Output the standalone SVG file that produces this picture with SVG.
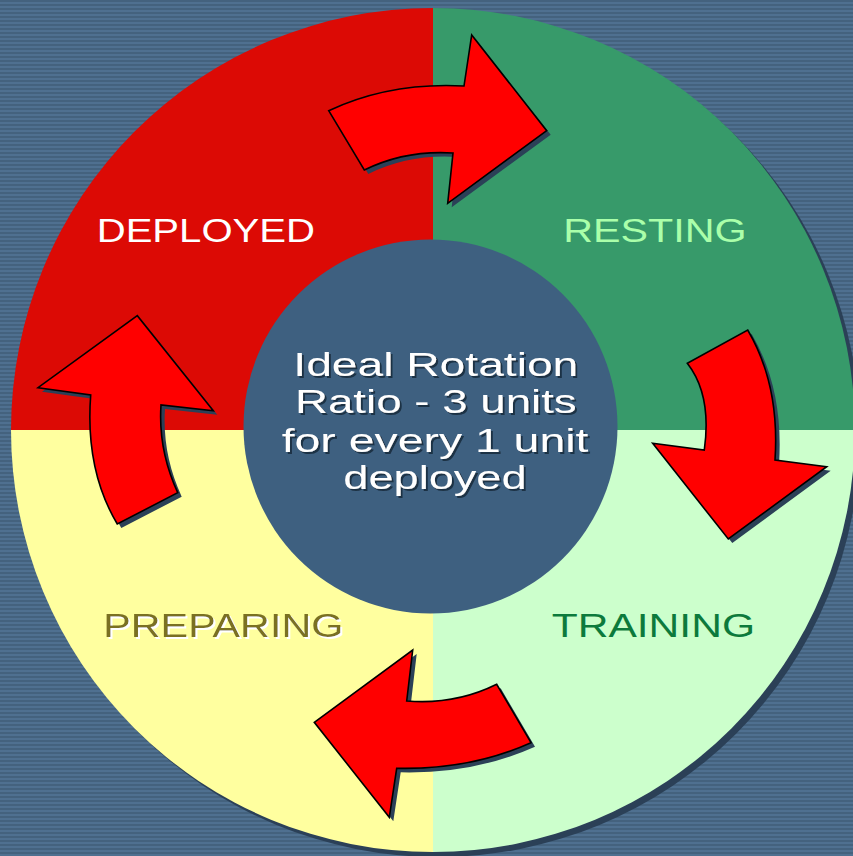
<svg xmlns="http://www.w3.org/2000/svg" width="853" height="856" viewBox="0 0 853 856">
<defs>
<pattern id="stripes" x="0" y="0" width="8" height="4" patternUnits="userSpaceOnUse">
<rect width="8" height="4" fill="#44627e"/>
<rect y="2" width="8" height="2" fill="#4f7090"/>
</pattern>
<filter id="darkShadow" x="-5%" y="-20%" width="110%" height="140%">
<feDropShadow dx="2" dy="2" stdDeviation="0.3" flood-color="#1e3045" flood-opacity="1"/>
</filter>
<filter id="lightShadow" x="-5%" y="-20%" width="110%" height="140%">
<feDropShadow dx="2" dy="2" stdDeviation="0.3" flood-color="#ffffff" flood-opacity="1"/>
</filter>
<path id="arrowTop" d="M328.7,110.7 Q390,82 464,86 L471.7,35 L546.7,130.7 L447.7,203.3 L453,153 Q405,150 364.3,170 Z"/>
<path id="arrowRight" d="M747.7,330 Q780,385 775,460 L826.7,466.7 L728.3,539 L652.7,443.3 L704.3,450 Q712,395 687.3,363.3 Z"/>
<path id="arrowBottom" d="M496.7,684.3 Q455,705 406.7,701 L412.7,650 L314.3,722.3 L389.3,817.3 L396.7,768.3 Q470,770 531,742.7 Z"/>
<path id="arrowLeft" d="M117.3,524 Q85,470 90.7,395 L38,387.7 L137.3,315.7 L213.3,410.7 L161,405 Q158,450 177.7,492.7 Z"/>
</defs>
<style>
.arrow{fill:#ff0000;stroke:#000;stroke-width:1.6;stroke-linejoin:miter}
.ashadow{fill:#2b4057}
.label{font-family:"Liberation Sans",Arial,sans-serif;font-size:32.5px}
.center{font-family:"Liberation Sans",Arial,sans-serif;font-size:33.5px}
</style>
<rect width="853" height="856" fill="url(#stripes)"/>
<g id="wheel">
<circle cx="438" cy="435" r="422" fill="#2b4057"/>
<path d="M433,430 L433,8 A422,422 0 0 0 11,430 Z" fill="#dc0a05"/>
<path d="M433,430 L855,430 A422,422 0 0 0 433,8 Z" fill="#379a6a"/>
<path d="M433,430 L433,852 A422,422 0 0 0 855,430 Z" fill="#ccffcc"/>
<path d="M433,430 L11,430 A422,422 0 0 0 433,852 Z" fill="#ffff9f"/>
</g>
<g id="hub">
<circle cx="430.5" cy="426.5" r="187" fill="#3e6080"/>
<g class="center" fill="#ffffff" filter="url(#darkShadow)">
<text x="293.3" y="375.7" textLength="285" lengthAdjust="spacingAndGlyphs">Ideal Rotation</text>
<text x="295" y="413.3" textLength="281.7" lengthAdjust="spacingAndGlyphs">Ratio - 3 units</text>
<text x="281.7" y="451.7" textLength="306.7" lengthAdjust="spacingAndGlyphs">for every 1 unit</text>
<text x="343.3" y="489.3" textLength="183.3" lengthAdjust="spacingAndGlyphs">deployed</text>
</g>
</g>
<g id="deployed">
<text class="label" x="96.7" y="241.7" fill="#ffffff" textLength="218.3" lengthAdjust="spacingAndGlyphs">DEPLOYED</text>
</g>
<g id="resting">
<text class="label" x="563.3" y="242.3" fill="#aaffaa" textLength="183.3" lengthAdjust="spacingAndGlyphs">RESTING</text>
</g>
<g id="training">
<text class="label" x="551.7" y="637.3" fill="#0c7a3c" textLength="203.3" lengthAdjust="spacingAndGlyphs">TRAINING</text>
</g>
<g id="preparing">
<text class="label" x="103.3" y="637.3" fill="#7a7020" filter="url(#lightShadow)" textLength="240" lengthAdjust="spacingAndGlyphs">PREPARING</text>
</g>
<g id="connectors">
<use href="#arrowTop" class="ashadow" transform="translate(4,4)"/>
<use href="#arrowTop" class="arrow"/>
<use href="#arrowRight" class="ashadow" transform="translate(4,4)"/>
<use href="#arrowRight" class="arrow"/>
<use href="#arrowBottom" class="ashadow" transform="translate(4,4)"/>
<use href="#arrowBottom" class="arrow"/>
<use href="#arrowLeft" class="ashadow" transform="translate(4,4)"/>
<use href="#arrowLeft" class="arrow"/>
</g>
</svg>
